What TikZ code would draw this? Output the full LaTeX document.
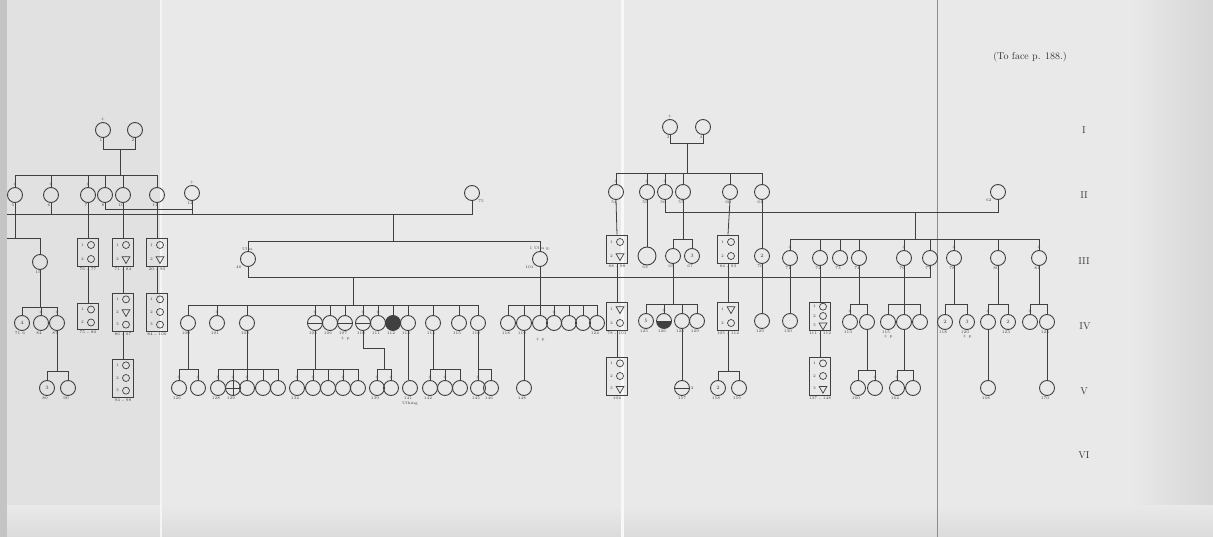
\documentclass[tikz,border=0pt]{standalone}
\usetikzlibrary{calc,shapes.geometric}
\definecolor{paper}{HTML}{E9E9E9}
\definecolor{paperL}{HTML}{E1E1E1}
\definecolor{edgec}{HTML}{C4C4C4}
\definecolor{ink}{HTML}{404040}
\tikzset{
 ind/.style={circle, draw=ink, line width=0.9pt, minimum size=15pt, inner sep=0pt, font=\fontsize{5}{5}\selectfont, text=ink},
 big/.style={ind, minimum size=18pt},
 bar/.style={path picture={\draw[ink,line width=0.6pt] (path picture bounding box.west) -- (path picture bounding box.east);}},
 crossed/.style={path picture={\draw[ink,line width=0.6pt] (path picture bounding box.west) -- (path picture bounding box.east) (path picture bounding box.north) -- (path picture bounding box.south);}},
 halfblack/.style={path picture={\fill[ink] (path picture bounding box.west) rectangle (path picture bounding box.south east);}},
 fam/.style={draw=ink, line width=0.9pt, minimum width=21pt, inner sep=0pt},
 mini/.style={circle, draw=ink, line width=0.7pt, minimum size=7pt, inner sep=0pt},
 tri/.style={regular polygon, regular polygon sides=3, shape border rotate=180, draw=ink, line width=0.7pt, minimum size=9pt, inner sep=0pt},
 ln/.style={draw=ink, line width=0.8pt},
 lbl/.style={font=\fontsize{4}{4}\selectfont, text=ink, inner sep=0.6pt},
 lb/.style={label={[lbl,xshift=-2pt]below:#1}},
 la/.style={label={[lbl]above:#1}},
 gen/.style={font=\fontsize{10}{10}\selectfont, text=black!75},
}
\newcommand{\kids}[2]{\foreach \kd in {#2} {\draw[ln] (\kd.north) -- (\kd |- #1);}}
\newcommand{\fbx}[7]{%
  \node[fam, minimum height=#4pt] (#1) at (#2,#3) {};
  \node[lbl, anchor=north, yshift=-1pt] at (#1.south) {#7};
  \foreach \sh [count=\k] in {#6} {%
    \pgfmathsetmacro{\yy}{#3-#4/2+(\k-0.5)*#4/#5}
    \node[\sh] at (#2+3,\yy) {};
    \node[lbl] at (#2-5.5,\yy) {\k};
  }%
}
\begin{document}
\begin{tikzpicture}[x=1pt,y=-1pt]
\useasboundingbox (0,0) rectangle (1213,537);
% paper
\fill[paper] (0,0) rectangle (1213,537);
\fill[paperL] (7,0) rectangle (160,537);
\fill[edgec] (0,0) rectangle (7,537);
\shade[left color=paper, right color=paper!92!black] (1130,0) rectangle (1213,537);
\shade[top color=paper, bottom color=paper!94!black] (7,505) rectangle (1213,537);
\fill[white!55!paper] (160,0) rectangle (162,537);
\fill[white!70!paper] (621,0) rectangle (624,537);
\draw[black!45, line width=0.8pt] (937,0) -- (937,537);

% level coordinates
\foreach \v in {143,149,173,175,209,212,214,238,239,241,277,304,305,307,348,369,370,371}
  {\coordinate (h\v) at (0,\v);}

% titles
\node[font=\fontsize{10}{12}\selectfont, text=black!80] (title) at (1030,57) {(To face p. 188.)};
\node[gen] (gI) at (1084,130) {I};
\node[gen] (gII) at (1084,195) {II};
\node[gen] (gIII) at (1084,261) {III};
\node[gen] (gIV) at (1085,326) {IV};
\node[gen] (gV) at (1084,391) {V};
\node[gen] (gVI) at (1084,455) {VI};

% ---------------- Generation I
\node[ind,lb=1,la=+] (I1) at (103,130) {};
\node[ind,lb=2] (I2) at (135,130) {};
\node[ind,lb=3,la=+] (I3) at (670,127) {};
\node[ind,lb=4] (I4) at (703,127) {};

% ---------------- Generation II left
\node[ind,lb=5,la=+] (IIa) at (15,195) {};
\node[ind,lb=6,la=+] (IIb) at (51,195) {};
\node[ind,lb=7,la=+] (IIc) at (88,195) {};
\node[ind,lb=8] (IId) at (105,195) {};
\node[ind,lb=10] (IIe) at (123,195) {};
\node[ind,lb=11] (IIf) at (157,195) {};
\node[ind,lb=12,la=+] (IIg) at (192,193) {};
\node[ind,label={[lbl]south east:75}] (IIh) at (472,193) {};

% ---------------- Generation II right
\node[ind,lb=54,la=+] (R2a) at (616,192) {};
\node[ind,lb=55,la=+] (R2b) at (647,192) {};
\node[ind,lb=56,la=+] (R2c) at (665,192) {};
\node[ind,lb=57] (R2d) at (683,192) {};
\node[ind,lb=60] (R2e) at (730,192) {};
\node[ind,lb=61] (R2f) at (762,192) {};
\node[ind,label={[lbl]south west:62}] (R2g) at (998,192) {};

% ---------------- Generation III
\node[ind,lb=15] (IIIa) at (40,262) {};
\fbx{B3a}{88}{252}{28}{2}{mini,mini}{76 - 77}
\fbx{B3b}{123}{252}{28}{2}{mini,tri}{71 - 84}
\fbx{B3c}{157}{252}{28}{2}{mini,tri}{20 - 90}
\node[ind,label={[lbl]south west:46},label={[lbl]above:Ulm.}] (IIIj) at (248,259) {};
\node[ind,label={[lbl]south west:101},label={[lbl]above:1 Ulm g.}] (IIIk) at (540,259) {};
\fbx{B3d}{617}{249}{28}{2}{mini,tri}{88 - 98}
\node[big,lb=63] (R3b) at (647,256) {};
\node[ind,lb=65] (R3c1) at (673,256) {};
\node[ind,lb=67] (R3c2) at (692,256) {3};
\fbx{B3e}{728}{249}{28}{2}{mini,mini}{84 - 93}
\node[ind,lb=70] (R3d) at (762,256) {2};
\node[ind,lb=71,la=+] (r1) at (790,258) {};
\node[ind,lb=72] (r2) at (820,258) {};
\node[ind,lb=73] (r3) at (840,258) {};
\node[ind,lb=74] (r4) at (859,258) {};
\node[ind,lb=76,la=+] (r5) at (904,258) {};
\node[ind,lb=77] (r6) at (930,258) {};
\node[ind,lb=78,la=+] (r7) at (954,258) {};
\node[ind,lb=80] (r8) at (998,258) {};
\node[ind,lb=81,la=+] (r9) at (1039,258) {};

% ---------------- Generation IV left
\node[ind,lb=71 6] (IVa) at (22,323) {4};
\node[ind,lb=84,la=+] (IVb) at (41,323) {};
\node[ind,lb=87,la=+] (IVc) at (57,323) {};
\fbx{B4a}{88}{316}{26}{2}{mini,mini}{75 - 80}
\fbx{B4b}{123}{312}{38}{3}{mini,tri,mini}{86 - 97}
\fbx{B4c}{157}{312}{38}{3}{mini,mini,mini}{84 - 100}

% ---------------- Generation IV middle
\node[ind,lb=100] (m1) at (188,323) {};
\node[ind,lb=101,la=+] (m2) at (217,323) {};
\node[ind,lb=102] (m3) at (247,323) {};
\node[ind,bar,lb=105,la=+] (m4) at (315,323) {};
\node[ind,lb=106] (m5) at (330,323) {};
\node[ind,bar,lb=107] (m6) at (345,323) {};
\node[ind,bar,lb=110,la=+] (m7) at (363,323) {};
\node[ind,lb=111,la=+] (m8) at (378,323) {};
\node[ind,fill=ink,lb=112] (m9) at (393,323) {};
\node[ind,lb=113] (m10) at (408,323) {};
\node[ind,lb=114] (m11) at (433,323) {};
\node[ind,lb=115] (m12) at (459,323) {};
\node[ind,lb=116] (m13) at (478,323) {};
\node[ind,lb=118] (n1) at (508,323) {};
\node[ind,lb=119] (n2) at (524,323) {};
\node[ind] (n3) at (540,323) {};
\node[ind,la=+] (n4) at (554,323) {};
\node[ind] (n5) at (569,323) {};
\node[ind] (n6) at (583,323) {};
\node[ind,lb=124] (n7) at (597,323) {};
\node[lbl] (tp1) at (345,339) {+ p};
\node[lbl] (tp2) at (540,340) {+ p};

% ---------------- Generation IV right
\fbx{B4d}{617}{316}{28}{2}{tri,mini}{78 - 101}
\node[ind,lb=125] (q1) at (646,321) {5};
\node[ind,halfblack,lb=126,la=+] (q2) at (664,321) {};
\node[ind,lb=128] (q3) at (682,321) {};
\node[ind,lb=129] (q4) at (697,321) {};
\fbx{B4e}{728}{316}{28}{2}{tri,mini}{105 - 114}
\node[ind,lb=129] (q5) at (762,321) {};
\node[ind,lb=130] (q6) at (790,321) {\textperiodcentered};
\fbx{B4f}{820}{316}{28}{3}{mini,mini,tri}{111 - 112}
\node[ind,lb=113,la=+] (s1) at (850,322) {};
\node[ind] (s2) at (867,322) {};
\node[ind,lb=115] (t1) at (888,322) {};
\node[ind] (t2) at (904,322) {};
\node[ind] (t3) at (920,322) {};
\node[ind,lb=118] (u1) at (945,322) {2};
\node[ind,lb=120] (u2) at (967,322) {3};
\node[ind,la=+] (w1) at (988,322) {};
\node[ind,lb=123] (w2) at (1008,322) {2};
\node[ind,la=+] (z1) at (1030,322) {};
\node[ind,lb=125] (z2) at (1047,322) {};
\node[lbl] (tp3) at (888,337) {+ p};
\node[lbl] (tp4) at (967,337) {+ p};

% ---------------- Generation V left
\node[ind,lb=89] (Va) at (47,388) {3};
\node[ind,lb=90] (Vb) at (68,388) {};
\fbx{B5b}{123}{378}{38}{3}{mini,mini,mini}{94 - 98}

% ---------------- Generation V middle
\node[ind,lb=126,la=+] (a1) at (179,388) {};
\node[ind,la=+] (a2) at (198,388) {};
\node[ind,lb=128,la=+] (b1) at (218,388) {};
\node[ind,crossed,lb=129,la=+] (b2) at (233,388) {};
\node[ind,la=+] (b3) at (247,388) {};
\node[ind] (b4) at (263,388) {};
\node[ind] (b5) at (278,388) {};
\node[ind,lb=134,la=+] (c1) at (297,388) {};
\node[ind,la=+] (c2) at (313,388) {};
\node[ind] (c3) at (328,388) {};
\node[ind,la=+] (c4) at (343,388) {};
\node[ind] (c5) at (358,388) {};
\node[ind,lb=139,la=+] (d1) at (377,388) {};
\node[ind,la=+] (d2) at (391,388) {};
\node[ind,lb=141,label={[lbl,yshift=-5pt]below:Ulking}] (e1) at (410,388) {};
\node[ind,lb=142,la=+] (f1) at (430,388) {};
\node[ind,la=+] (f2) at (445,388) {};
\node[ind] (f3) at (460,388) {};
\node[ind,lb=145,la=+] (g1) at (478,388) {};
\node[ind,lb=146] (g2) at (491,388) {};
\node[ind,lb=148] (h1) at (524,388) {};

% ---------------- Generation V right
\fbx{B5d}{617}{376}{38}{3}{mini,mini,tri}{104}
\node[ind,bar,label={[lbl]below:157},label={[lbl]east:2}] (V682) at (682,388) {};
\node[ind,lb=158] (x1) at (718,388) {2};
\node[ind,lb=159] (x2) at (739,388) {};
\fbx{B5f}{820}{376}{38}{3}{mini,mini,tri}{137 - 148}
\node[ind,lb=160] (y1) at (858,388) {};
\node[ind,la=+] (y2) at (875,388) {};
\node[ind,lb=164,la=+] (y3) at (897,388) {};
\node[ind] (y4) at (913,388) {};
\node[ind,lb=168] (vw) at (988,388) {};
\node[ind,lb=170] (vz) at (1047,388) {};

% ================= connectors
% Gen I left
\draw[ln] (I1.south) -- (I1 |- h149) -- (I2 |- h149) -- (I2.south);
\coordinate (dI1) at (120,149);
\draw[ln] (dI1) -- (dI1 |- h175);
\draw[ln] (IIa |- h175) -- (IIf |- h175);
\kids{h175}{IIa,IIb,IIc,IId,IIe,IIf}
% Gen I right
\draw[ln] (I3.south) -- (I3 |- h143) -- (I4 |- h143) -- (I4.south);
\coordinate (dI3) at (687,143);
\draw[ln] (dI3) -- (dI3 |- h173);
\draw[ln] (R2a |- h173) -- (R2f |- h173);
\kids{h173}{R2a,R2b,R2c,R2d,R2e,R2f}
% Gen II left
\coordinate (e238) at (7,238);
\draw[ln] (IIa.south) -- (IIa |- h238);
\draw[ln] (e238) -- (IIIa |- h238) -- (IIIa.north);
\coordinate (e214) at (7,214);
\draw[ln] (e214) -- (IIh |- h214) -- (IIh.south);
\draw[ln] (IIb.south) -- (IIb |- h214);
\draw[ln] (IIg.south) -- (IIg |- h214);
\draw[ln] (IId.south) -- (IId |- h209) -- (IIg |- h209);
\draw[ln] (IIc.south) -- (B3a.north);
\draw[ln] (IIe.south) -- (B3b.north);
\draw[ln] (IIf.south) -- (B3c.north);
\coordinate (d214) at (393,214);
\draw[ln] (d214) -- (d214 |- h241);
\draw[ln] (IIIj |- h241) -- (IIIk |- h241);
\kids{h241}{IIIj,IIIk}
% Gen III middle
\draw[ln] (IIIj.south) -- (IIIj |- h277) -- (r6 |- h277) -- (r6.south);
\draw[ln] (IIIk.south) -- (IIIk |- h305);
\coordinate (d277) at (353,277);
\draw[ln] (d277) -- (d277 |- h305);
\draw[ln] (m1 |- h305) -- (m13 |- h305);
\draw[ln] (n1 |- h305) -- (n7 |- h305);
\kids{h305}{m1,m2,m3,m4,m5,m6,m7,m8,m9,m10,m11,m12,m13,n1,n2,n3,n4,n5,n6,n7}
% Gen IV / V left
\draw[ln] (IIIa.south) -- (IIIa |- h307);
\draw[ln] (IVa |- h307) -- (IVc |- h307);
\kids{h307}{IVa,IVb,IVc}
\draw[ln] (IVc.south) -- (IVc |- h371);
\draw[ln] (Va |- h371) -- (Vb |- h371);
\kids{h371}{Va,Vb}
\draw[ln] (B3a.south) -- (B4a.north);
\draw[ln] (B3b.south) -- (B4b.north);
\draw[ln] (B4b.south) -- (B5b.north);
\draw[ln] (B3c.south) -- (B4c.north);
% Gen V middle
\draw[ln] (m1.south) -- (m1 |- h369);
\draw[ln] (a1 |- h369) -- (a2 |- h369);
\draw[ln] (m3.south) -- (m3 |- h369);
\draw[ln] (b1 |- h369) -- (b5 |- h369);
\draw[ln] (m4.south) -- (m4 |- h369);
\draw[ln] (c1 |- h369) -- (c5 |- h369);
\coordinate (k384) at (384,348);
\draw[ln] (m7.south) -- (m7 |- h348) -- (k384) -- (k384 |- h369);
\draw[ln] (d1 |- h369) -- (d2 |- h369);
\draw[ln] (m10.south) -- (m10 |- e1.north);
\draw[ln] (m11.south) -- (m11 |- h369);
\draw[ln] (f1 |- h369) -- (f3 |- h369);
\draw[ln] (m13.south) -- (m13 |- h369);
\draw[ln] (g1 |- h369) -- (g2 |- h369);
\draw[ln] (n2.south) -- (h1.north);
\kids{h369}{a1,a2,b1,b2,b3,b4,b5,c1,c2,c3,c4,c5,d1,d2,f1,f2,f3,g1,g2}
% Right side
\draw[ln] (R2c.south) -- (R2c |- h212) -- (R2g |- h212) -- (R2g.south);
\coordinate (d212) at (915,212);
\draw[ln] (d212) -- (d212 |- h239);
\draw[ln] (r1 |- h239) -- (r9 |- h239);
\kids{h239}{r1,r2,r3,r4,r5,r6,r7,r8,r9}
\draw[ln] (R2a.south) -- (B3d.north);
\draw[ln] (R2b.south) -- (R3b.north);
\draw[ln] (R2d.south) -- (R2d |- h239);
\draw[ln] (R3c1 |- h239) -- (R3c2 |- h239);
\kids{h239}{R3c1,R3c2}
\draw[ln] (R2e.south) -- (B3e.north);
\draw[ln] (R2f.south) -- (R3d.north);
% Gen IV right
\draw[ln] (B3d.south) -- (B4d.north);
\draw[ln] (B4d.south) -- (B5d.north);
\draw[ln] (R3c1.south) -- (R3c1 |- h304);
\draw[ln] (q1 |- h304) -- (q4 |- h304);
\draw[ln] (B3e.south) -- (B4e.north);
\draw[ln] (R3d.south) -- (q5.north);
\draw[ln] (r1.south) -- (q6.north);
\draw[ln] (r2.south) -- (B4f.north);
\draw[ln] (r4.south) -- (r4 |- h304);
\draw[ln] (s1 |- h304) -- (s2 |- h304);
\draw[ln] (r5.south) -- (r5 |- h304);
\draw[ln] (t1 |- h304) -- (t3 |- h304);
\draw[ln] (r7.south) -- (r7 |- h304);
\draw[ln] (u1 |- h304) -- (u2 |- h304);
\draw[ln] (r8.south) -- (r8 |- h304);
\draw[ln] (w1 |- h304) -- (w2 |- h304);
\draw[ln] (r9.south) -- (r9 |- h304);
\draw[ln] (z1 |- h304) -- (z2 |- h304);
\kids{h304}{q1,q2,q3,q4,s1,s2,t1,t2,t3,u1,u2,w1,w2,z1,z2}
% Gen V right
\draw[ln] (q3.south) -- (V682.north);
\draw[ln] (B4e.south) -- (B4e |- h371);
\draw[ln] (x1 |- h371) -- (x2 |- h371);
\kids{h371}{x1,x2}
\draw[ln] (B4f.south) -- (B5f.north);
\draw[ln] (s2.south) -- (s2 |- h370);
\draw[ln] (y1 |- h370) -- (y2 |- h370);
\draw[ln] (t2.south) -- (t2 |- h370);
\draw[ln] (y3 |- h370) -- (y4 |- h370);
\kids{h370}{y1,y2,y3,y4}
\draw[ln] (w1.south) -- (vw.north);
\draw[ln] (z2.south) -- (vz.north);
\end{tikzpicture}
\end{document}
